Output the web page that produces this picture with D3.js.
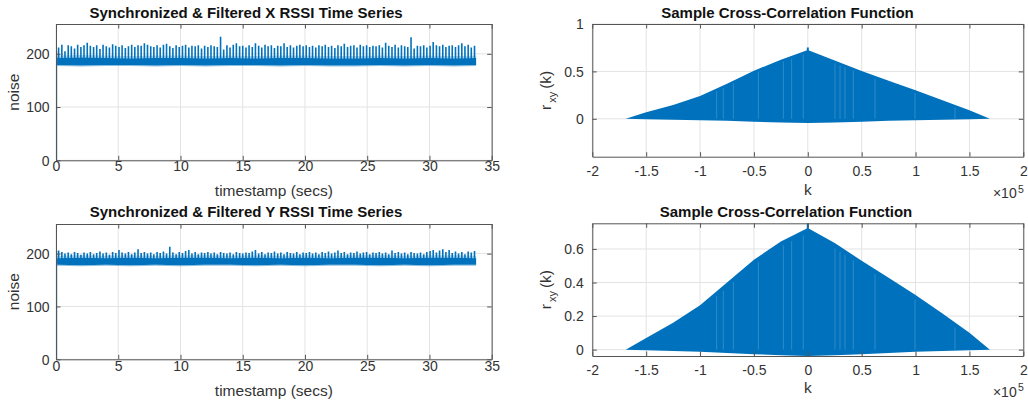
<!DOCTYPE html>
<html>
<head>
<meta charset="utf-8">
<script src="https://cdn.jsdelivr.net/npm/d3@7"></script>
<style>
  body { margin: 0; background: #fff; }
  svg { display: block; font-family: "Liberation Sans", Arial, sans-serif; }
</style>
</head>
<body>
<div id="chart"></div>
<script>

/*
 * Data.
 */
var timeTicks = [0, 5, 10, 15, 20, 25, 30, 35];
var noiseTicks = [0, 100, 200];
var lagTicks = [-2, -1.5, -1, -0.5, 0, 0.5, 1, 1.5, 2];
var corrTicksTop = [0, 0.5, 1];
var corrTicksBottom = [0, 0.2, 0.4, 0.6];

// timestamps (secs) of the periodic spikes, shared by both RSSI series
var spikeTimes = [
  0.21, 0.47, 0.72, 0.98, 1.23, 1.49, 1.74, 2.00, 2.25, 2.51,
  2.76, 3.02, 3.27, 3.53, 3.78, 4.04, 4.29, 4.55, 4.80, 5.06,
  5.31, 5.57, 5.82, 6.08, 6.33, 6.59, 6.84, 7.10, 7.35, 7.61,
  7.86, 8.12, 8.37, 8.63, 8.88, 9.14, 9.39, 9.65, 9.90, 10.16,
  10.41, 10.67, 10.92, 11.18, 11.43, 11.69, 11.94, 12.20, 12.45, 12.71,
  12.96, 13.22, 13.47, 13.73, 13.98, 14.24, 14.49, 14.75, 15.00, 15.26,
  15.51, 15.77, 16.02, 16.28, 16.53, 16.79, 17.04, 17.30, 17.55, 17.81,
  18.06, 18.32, 18.57, 18.83, 19.08, 19.34, 19.59, 19.85, 20.10, 20.36,
  20.61, 20.87, 21.12, 21.38, 21.63, 21.89, 22.14, 22.40, 22.65, 22.91,
  23.16, 23.42, 23.67, 23.93, 24.18, 24.44, 24.69, 24.95, 25.20, 25.46,
  25.71, 25.97, 26.22, 26.48, 26.73, 26.99, 27.24, 27.50, 27.75, 28.01,
  28.26, 28.52, 28.77, 29.03, 29.28, 29.54, 29.79, 30.05, 30.30, 30.56,
  30.81, 31.07, 31.32, 31.58, 31.83, 32.09, 32.34, 32.60, 32.85, 33.11, 33.36, 33.62
];

// spike peaks, X series
var xSpikes = [
  212, 217, 205, 216, 214, 210, 217, 213, 216, 221,
  215, 213, 216, 209, 217, 214, 212, 218, 215, 213,
  216, 211, 214, 217, 213, 216, 215, 220, 217, 214,
  213, 216, 212, 217, 219, 214, 211, 216, 213, 215,
  217, 212, 215, 214, 216, 210, 215, 213, 216, 214,
  213, 232, 208, 216, 212, 217, 220, 214, 215, 212,
  216, 213, 220, 215, 212, 217, 214, 216, 211, 215,
  214, 220, 213, 216, 212, 215, 217, 214, 216, 213,
  215, 212, 216, 214, 217, 213, 215, 211, 216, 214,
  219, 213, 215, 216, 212, 217, 214, 216, 213, 215,
  214, 216, 212, 221, 215, 213, 217, 212, 216, 214,
  213, 231, 210, 215, 214, 216, 212, 215, 222, 216,
  214, 217, 213, 215, 216, 213, 216, 220, 214, 217, 212, 215
];

// spike peaks, Y series
var ySpikes = [
  206, 203, 200, 202, 199, 203, 201, 198, 202, 200,
  203, 199, 201, 204, 200, 202, 198, 203, 201, 207,
  202, 200, 203, 199, 202, 208, 201, 203, 200, 202,
  199, 203, 201, 204, 200, 213, 202, 199, 203, 201,
  205, 207, 200, 203, 199, 202, 201, 203, 200, 202,
  199, 203, 201, 200, 202, 199, 203, 201, 200, 202,
  201, 204, 207, 200, 203, 199, 202, 201, 204, 200,
  202, 199, 203, 201, 200, 203, 199, 202, 201, 203,
  200, 202, 199, 203, 201, 204, 200, 202, 206, 201,
  203, 199, 202, 201, 204, 200, 202, 203, 199, 202,
  201, 203, 200, 202, 199, 206, 201, 203, 200, 202,
  199, 203, 201, 200, 202, 199, 203, 205, 207, 202,
  206, 208, 203, 207, 201, 204, 200, 203, 199, 204, 202, 205
];

// the dense noise band between spikes
var bandTimes = [0.03, 2, 4, 6, 8, 10, 12, 14, 16, 18, 20, 22, 24, 26, 28, 30, 32, 33.75];
var xBandLo = [179, 178, 179, 179, 178, 179, 178, 179, 179, 178, 179, 178, 178, 179, 178, 179, 178, 179];
var xBandHi = [192, 193, 192, 191, 192, 192, 191, 192, 191, 192, 192, 191, 191, 192, 191, 192, 191, 192];
var yBandLo = [179, 178, 179, 178, 179, 178, 179, 179, 178, 179, 178, 179, 179, 178, 179, 178, 179, 179];
var yBandHi = [191, 192, 191, 192, 191, 192, 192, 191, 192, 191, 192, 191, 192, 192, 191, 192, 192, 191];

// start-up jump from 0
var startTimes = [0.02, 0.02];
var startValues = [0, 205];

// cross-correlation envelope, lag k in units of 1e5
var lagK = [-1.69, -1.5, -1.25, -1, -0.75, -0.5, -0.25, 0, 0.25, 0.5, 0.75, 1, 1.25, 1.5, 1.69];
var xcUpperTop = [0, 0.07, 0.145, 0.24, 0.37, 0.507, 0.623, 0.725, 0.615, 0.505, 0.4, 0.3, 0.195, 0.09, 0];
var xcLowerTop = [0, -0.005, -0.01, -0.015, -0.022, -0.03, -0.04, -0.045, -0.04, -0.03, -0.022, -0.015, -0.01, -0.005, 0];
var xcUpperBottom = [0, 0.07, 0.16, 0.265, 0.4, 0.535, 0.645, 0.725, 0.635, 0.53, 0.428, 0.326, 0.215, 0.1, 0];
var xcLowerBottom = [0, -0.004, -0.008, -0.013, -0.02, -0.027, -0.034, -0.038, -0.034, -0.027, -0.02, -0.013, -0.008, -0.004, 0];

// zero-lag peak
var peakK = [0];
var peakTop = [0.753];
var peakBottom = [0.753];

// lighter vertical streaks inside the filled correlation
var streakK = [-0.846, -0.784, -0.691, -0.459, -0.227, -0.15, -0.042, 0.252, 0.299, 0.345, 0.422, 0.624, 0.995, 1.366];

/*
 * Layout.
 */
var width = 1028, height = 403;
var blue = "#0072BD";
var axisColor = "#262626";
var tickColor = "#333";
var gridColor = "#e3e3e3";

var svg = d3.select("#chart").append("svg")
  .attr("width", width)
  .attr("height", height);

var panels = [
  { kind: "time", left: 56, top: 24, right: 491.7, bottom: 160.3,
    title: "Synchronized & Filtered X RSSI Time Series", titleX: 246, titleY: 17.5,
    tickY: 171, labelY: 195.5, yLabelX: 19.3, yGap: 6.5,
    spikes: xSpikes, lo: xBandLo, hi: xBandHi },
  { kind: "corr", left: 592.3, top: 24, right: 1023.3, bottom: 156.7,
    title: "Sample Cross-Correlation Function", titleX: 787.5, titleY: 17.5,
    tickY: 176, labelY: 195, yLabelX: 551, yGap: 8.5, expY: 198.3,
    yDomain: [-0.4, 1], yTicks: corrTicksTop, upper: xcUpperTop, lower: xcLowerTop, peak: peakTop },
  { kind: "time", left: 56, top: 224, right: 491.7, bottom: 359.3,
    title: "Synchronized & Filtered Y RSSI Time Series", titleX: 246, titleY: 217,
    tickY: 371, labelY: 396, yLabelX: 19.3, yGap: 6.5,
    spikes: ySpikes, lo: yBandLo, hi: yBandHi },
  { kind: "corr", left: 592.3, top: 223.3, right: 1023.3, bottom: 356,
    title: "Sample Cross-Correlation Function", titleX: 786, titleY: 216.5,
    tickY: 375, labelY: 393.3, yLabelX: 551, yGap: 8.5, expY: 396.7,
    yDomain: [-0.038, 0.753], yTicks: corrTicksBottom, upper: xcUpperBottom, lower: xcLowerBottom, peak: peakBottom }
];

var fmt = function(d) { return String(d); };

panels.forEach(function(p, i) {
  var x, y, xTicks, yTicks;
  if (p.kind === "time") {
    x = d3.scaleLinear().domain([0, 35]).range([p.left, p.right]);
    y = d3.scaleLinear().domain([0, 256]).range([p.bottom, p.top]);
    xTicks = timeTicks; yTicks = noiseTicks;
  } else {
    x = d3.scaleLinear().domain([-2, 2]).range([p.left, p.right]);
    y = d3.scaleLinear().domain(p.yDomain).range([p.bottom, p.top]);
    xTicks = lagTicks; yTicks = p.yTicks;
  }
  var w = p.right - p.left, h = p.bottom - p.top;
  var g = svg.append("g");

  // clip
  svg.append("clipPath").attr("id", "clip" + i)
    .append("rect").attr("x", p.left).attr("y", p.top).attr("width", w).attr("height", h);

  // grid
  var grid = g.append("g").attr("stroke", gridColor).attr("stroke-width", 1);
  grid.selectAll(".gx").data(xTicks).enter().append("line")
    .attr("x1", function(d) { return x(d); }).attr("x2", function(d) { return x(d); })
    .attr("y1", p.top).attr("y2", p.bottom);
  grid.selectAll(".gy").data(yTicks).enter().append("line")
    .attr("x1", p.left).attr("x2", p.right)
    .attr("y1", function(d) { return y(d); }).attr("y2", function(d) { return y(d); });

  var data = g.append("g").attr("clip-path", "url(#clip" + i + ")");

  if (p.kind === "time") {
    var bandIdx = d3.range(bandTimes.length);
    // faint fringe above and below the core band
    data.append("path")
      .attr("d", d3.area()
        .x(function(j) { return x(bandTimes[j]); })
        .y0(function(j) { return y(p.hi[j]); })
        .y1(function(j) { return y(p.hi[j] + 5); })(bandIdx))
      .attr("fill", blue).attr("opacity", 0.3);
    data.append("path")
      .attr("d", d3.area()
        .x(function(j) { return x(bandTimes[j]); })
        .y0(function(j) { return y(p.lo[j] - 2); })
        .y1(function(j) { return y(p.lo[j]); })(bandIdx))
      .attr("fill", blue).attr("opacity", 0.45);
    // core band
    data.append("path")
      .attr("d", d3.area()
        .x(function(j) { return x(bandTimes[j]); })
        .y0(function(j) { return y(p.lo[j]); })
        .y1(function(j) { return y(p.hi[j]); })(bandIdx))
      .attr("fill", blue);
    // spikes
    data.selectAll(".spike").data(spikeTimes).enter().append("line")
      .attr("x1", function(d) { return x(d); }).attr("x2", function(d) { return x(d); })
      .attr("y1", y(188))
      .attr("y2", function(d, j) { return y(p.spikes[j]); })
      .attr("stroke", blue).attr("stroke-width", 1.6);
    // start-up jump
    data.append("path")
      .attr("d", d3.line()
        .x(function(j) { return x(startTimes[j]); })
        .y(function(j) { return y(startValues[j]); })(d3.range(startTimes.length)))
      .attr("stroke", "#3d8ac6").attr("stroke-width", 2).attr("fill", "none");
  } else {
    var idx = d3.range(lagK.length);
    data.append("path")
      .attr("d", d3.area()
        .x(function(j) { return x(lagK[j]); })
        .y0(function(j) { return y(p.lower[j]); })
        .y1(function(j) { return y(p.upper[j]); })(idx))
      .attr("fill", blue);
    var env = d3.scaleLinear().domain(lagK).range(p.upper);
    // narrow zero-lag spike
    data.selectAll(".peak").data(peakK).enter().append("line")
      .attr("x1", function(d) { return x(d); }).attr("x2", function(d) { return x(d); })
      .attr("y1", function(d) { return y(env(d) - 0.02); })
      .attr("y2", function(d, j) { return y(p.peak[j]); })
      .attr("stroke", blue).attr("stroke-width", 2);
    data.selectAll(".streak").data(streakK).enter().append("line")
      .attr("x1", function(d) { return x(d); }).attr("x2", function(d) { return x(d); })
      .attr("y1", y(0))
      .attr("y2", function(d) { return y(env(d) - 0.03); })
      .attr("stroke", "#fff").attr("stroke-opacity", 0.18).attr("stroke-width", 1);
  }

  // axes with inward ticks on all four sides
  var tl = 4.5;
  var axes = g.append("g").attr("color", axisColor).attr("font-family", null);
  var bottomAxis = axes.append("g").attr("transform", "translate(0," + p.bottom + ")")
    .call(d3.axisBottom(x).tickValues(xTicks).tickSizeInner(-tl).tickSizeOuter(0).tickFormat(fmt));
  axes.append("g").attr("transform", "translate(0," + p.top + ")")
    .call(d3.axisTop(x).tickValues(xTicks).tickSizeInner(-tl).tickSizeOuter(0).tickFormat(""));
  var leftAxis = axes.append("g").attr("transform", "translate(" + p.left + ",0)")
    .call(d3.axisLeft(y).tickValues(yTicks).tickSizeInner(-tl).tickSizeOuter(0).tickFormat(fmt));
  axes.append("g").attr("transform", "translate(" + p.right + ",0)")
    .call(d3.axisRight(y).tickValues(yTicks).tickSizeInner(-tl).tickSizeOuter(0).tickFormat(""));
  axes.selectAll("path.domain").attr("stroke", "#555").attr("stroke-width", 1);
  axes.selectAll(".tick line").attr("stroke", "#555");

  bottomAxis.selectAll("text")
    .attr("y", p.tickY - p.bottom).attr("dy", null)
    .attr("font-size", 14).attr("fill", tickColor);
  leftAxis.selectAll("text")
    .attr("x", -p.yGap).attr("dy", "0.35em")
    .attr("font-size", 14).attr("fill", tickColor);

  // titles and labels
  svg.append("text")
    .attr("x", p.titleX).attr("y", p.titleY)
    .attr("text-anchor", "middle")
    .attr("font-size", 15).attr("font-weight", "bold").attr("fill", "#111")
    .text(p.title);

  svg.append("text")
    .attr("x", (p.left + p.right) / 2).attr("y", p.labelY)
    .attr("text-anchor", "middle")
    .attr("font-size", 15.5).attr("fill", tickColor)
    .text(p.kind === "time" ? "timestamp (secs)" : "k");

  var cy = (p.top + p.bottom) / 2;
  var yl = svg.append("text")
    .attr("transform", "translate(" + p.yLabelX + "," + cy + ") rotate(-90)")
    .attr("text-anchor", "middle")
    .attr("font-size", 15.5).attr("fill", tickColor);
  if (p.kind === "time") {
    yl.text("noise");
  } else {
    yl.append("tspan").text("r");
    yl.append("tspan").attr("dy", 5).attr("dx", 2).attr("font-size", 11).text("xy");
    yl.append("tspan").attr("dy", -5).attr("dx", 3).text("(k)");

    // exponent label
    svg.append("text")
      .attr("x", 1016.7).attr("y", p.expY)
      .attr("text-anchor", "end")
      .attr("font-size", 14).attr("fill", tickColor)
      .text("\u00d710");
    svg.append("text")
      .attr("x", 1018).attr("y", p.expY - 5.6)
      .attr("font-size", 10.5).attr("fill", tickColor)
      .text("5");
  }
});

</script>
</body>
</html>
